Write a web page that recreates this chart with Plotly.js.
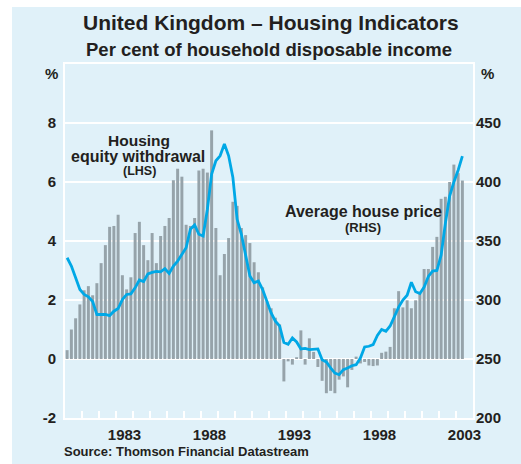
<!DOCTYPE html>
<html>
<head>
<meta charset="utf-8">
<script src="https://cdn.plot.ly/plotly-3.0.1.min.js"></script>
<style>
  html, body { margin: 0; padding: 0; background: #ffffff; }
  #chart { position: absolute; left: 12px; top: 7px; width: 509px; height: 457px; }
</style>
</head>
<body>
<div id="chart"></div>
<script>
// ---- Data (quarterly, 1980 Q1 .. 2003 Q2) ----
const startYear = 1980;
const endYear = 2004;
// Housing equity withdrawal, per cent of household disposable income (LHS)
const equityWithdrawal = [
  0.30, 1.00, 1.38, 1.85,   2.33, 2.47, 2.16, 2.57,   3.25, 3.86, 4.48, 4.51,
  4.89, 2.84, 2.36, 2.77,   4.27, 4.65, 3.86, 3.35,   4.27, 3.25, 4.17, 4.51,
  4.78, 6.06, 6.45, 6.18,   4.55, 4.51, 4.78, 6.39,   6.45, 6.32, 7.75, 4.44,
  2.84, 3.56, 4.10, 5.33,   5.19, 4.44, 4.20, 3.93,   3.28, 2.94, 2.43, 1.95,
  1.72, 1.40, 1.17, -0.76,  -0.08, -0.19, 0.06, 0.97, -0.19, 0.70, 0.24, -0.27,
  -0.74, -1.16, -1.08, -1.16, -0.70, -0.59, -0.96, -0.37, 0.08, -0.15, -0.10, -0.22,
  -0.24, -0.22, 0.21, 0.25,  0.41, 1.72, 2.30, 1.75,  1.99, 1.72, 1.99, 2.26,
  3.05, 3.05, 3.80, 4.14,   5.43, 5.50, 6.00, 6.59,   6.30, 6.05
];
// Average house price index (RHS)
const housePrice = [
  335.8, 328.8, 318.8, 308.9,  304.7, 302.7, 298.7, 287.7,  287.7, 287.7, 286.8, 290.5,
  292.8, 300.4, 304.7, 305.2,  310.3, 316.9, 315.7, 322.2,  323.4, 324.2, 323.9, 326.5,
  322.5, 328.8, 333.0, 338.1,  344.3, 360.0, 363.6, 355.7,  354.2, 376.9, 406.7, 418.0,
  422.2, 432.2, 422.2, 403.8,  368.4, 355.7, 337.3, 320.3,  314.6, 316.0, 308.9, 298.4,
  289.1, 282.0, 278.0, 264.0,  262.5, 267.8, 264.4, 258.5,  259.0, 258.0, 258.0, 258.5,
  249.4, 247.5, 242.4, 238.1,  236.7, 241.0, 242.4, 244.3,  245.2, 250.8, 260.2, 260.8,
  262.2, 270.0, 275.0, 273.5,  278.0, 286.0, 294.0, 300.0,  304.0, 315.0, 307.0, 305.5,
  311.0, 320.0, 324.5, 325.0,  338.0, 365.0, 388.0, 400.0,  410.0, 422.0
];
const labelYears = [1983, 1988, 1993, 1998, 2003];
const lhsTicks = [-2, 0, 2, 4, 6, 8];
const rhsTicks = [200, 250, 300, 350, 400, 450];

// quarter mid-points as x positions; year boundaries for tick marks
const quarterX = equityWithdrawal.map((_, i) => startYear + i / 4 + 0.125);
const yearBounds = Array.from({ length: endYear - startYear + 1 }, (_, i) => startYear + i);

const txt = '#231f20';
const fam = 'Arial, "Liberation Sans", Helvetica, sans-serif';
const bg = '#e0f1f9';
const bold = (size) => ({ family: fam, size: size, color: txt, weight: 'bold' });

const traces = [
  {
    type: 'bar', x: quarterX, y: equityWithdrawal, xaxis: 'x', yaxis: 'y',
    marker: { color: '#96a3aa' }, width: 0.175, hoverinfo: 'skip'
  },
  {
    type: 'scatter', mode: 'lines', x: quarterX, y: housePrice, xaxis: 'x2', yaxis: 'y2',
    line: { color: '#00a8e6', width: 2.8 }, hoverinfo: 'skip'
  }
];

const px = (p) => (p - 64.7) / 408;   // page x -> paper x
const py = (p) => (418 - p) / 354;    // page y -> paper y

const layout = {
  width: 509, height: 457,
  margin: { l: 53, r: 48, t: 57, b: 46 },
  paper_bgcolor: bg, plot_bgcolor: bg,
  showlegend: false,
  font: { family: fam, color: txt },
  xaxis: {
    range: [startYear, endYear],
    tickmode: 'array', tickvals: yearBounds, showticklabels: false,
    ticks: 'inside', ticklen: 7, tickwidth: 1.5, tickcolor: '#ffffff',
    showgrid: false, zeroline: false,
    showline: true, linecolor: '#ffffff', linewidth: 2, mirror: true,
    fixedrange: true
  },
  xaxis2: {
    range: [startYear, endYear], overlaying: 'x', anchor: 'y2', side: 'bottom',
    tickmode: 'array', tickvals: labelYears.map(y => y + 0.5), ticktext: labelYears.map(String),
    ticks: '', showgrid: false, zeroline: false, showline: false,
    tickfont: bold(15), ticklabelstandoff: 6, fixedrange: true
  },
  yaxis: {
    range: [-2, 10], tickmode: 'array', tickvals: lhsTicks, ticktext: lhsTicks.map(String),
    showgrid: true, gridcolor: '#ffffff', gridwidth: 2, zeroline: false,
    showline: true, linecolor: '#ffffff', linewidth: 2, mirror: true,
    ticks: '', tickfont: bold(15), ticklabelstandoff: 4, fixedrange: true
  },
  yaxis2: {
    range: [200, 500], overlaying: 'y', anchor: 'x2', side: 'right', tickmode: 'array',
    tickvals: rhsTicks, ticktext: rhsTicks.map(String),
    showgrid: false, zeroline: false, showline: false, ticks: '',
    tickfont: bold(15), ticklabelstandoff: 2, fixedrange: true
  },
  annotations: [
    { text: 'United Kingdom – Housing Indicators', xref: 'paper', yref: 'paper', x: px(270.5), y: py(22.5),
      xanchor: 'center', yanchor: 'middle', showarrow: false, font: bold(21) },
    { text: 'Per cent of household disposable income', xref: 'paper', yref: 'paper', x: px(269), y: py(49.5),
      xanchor: 'center', yanchor: 'middle', showarrow: false, font: bold(18.5) },
    { text: '%', xref: 'paper', yref: 'paper', x: px(51), y: py(74), xanchor: 'center', yanchor: 'middle',
      showarrow: false, font: bold(15) },
    { text: '%', xref: 'paper', yref: 'paper', x: px(487), y: py(74), xanchor: 'center', yanchor: 'middle',
      showarrow: false, font: bold(15) },
    { text: 'Housing', xref: 'paper', yref: 'paper', x: px(139), y: py(140.5),
      xanchor: 'center', yanchor: 'middle', showarrow: false, font: bold(15.5) },
    { text: 'equity withdrawal', xref: 'paper', yref: 'paper', x: px(138), y: py(156),
      xanchor: 'center', yanchor: 'middle', showarrow: false, font: bold(16) },
    { text: '(LHS)', xref: 'paper', yref: 'paper', x: px(139), y: py(171),
      xanchor: 'center', yanchor: 'middle', showarrow: false, font: bold(12.5) },
    { text: 'Average house price', xref: 'paper', yref: 'paper', x: px(363.5), y: py(211),
      xanchor: 'center', yanchor: 'middle', showarrow: false, font: bold(16) },
    { text: '(RHS)', xref: 'paper', yref: 'paper', x: px(362.5), y: py(227.5),
      xanchor: 'center', yanchor: 'middle', showarrow: false, font: bold(13) },
    { text: 'Source: Thomson Financial Datastream', xref: 'paper', yref: 'paper', x: px(62), y: py(451),
      xanchor: 'left', yanchor: 'middle', showarrow: false, font: bold(13) }
  ]
};

Plotly.newPlot('chart', traces, layout, { staticPlot: true, displayModeBar: false });
</script>
</body>
</html>
